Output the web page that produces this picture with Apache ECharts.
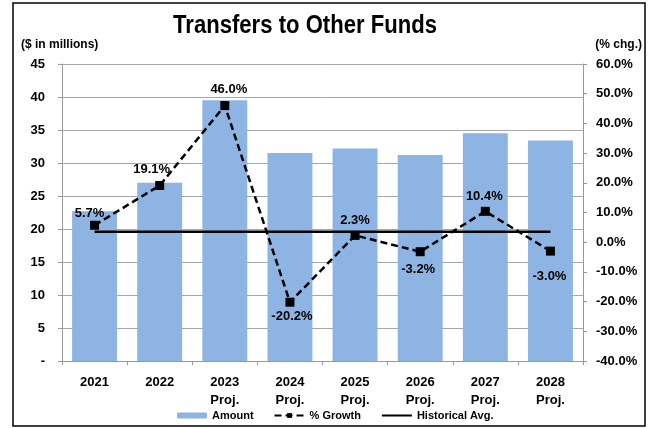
<!DOCTYPE html>
<html>
<head>
<meta charset="utf-8">
<script src="https://cdn.jsdelivr.net/npm/echarts@6/dist/echarts.min.js"></script>
<style>
html,body{margin:0;padding:0;background:#fff;}
#chart{width:651px;height:428px;}
</style>
</head>
<body>
<div id="chart"></div>
<script>
// data
var years = ['2021', '2022', '2023\nProj.', '2024\nProj.', '2025\nProj.', '2026\nProj.', '2027\nProj.', '2028\nProj.'];
var amount = [22.7, 27.0, 39.5, 31.5, 32.2, 31.2, 34.5, 33.4];
var growth = [5.7, 19.1, 46.0, -20.2, 2.3, -3.2, 10.4, -3.0];
var histAvg = [3.5, 3.5, 3.5, 3.5, 3.5, 3.5, 3.5, 3.5];
var leftTicks = [0, 45, 5];
var rightTicks = [-40, 60, 10];

// where each % label sits around its point
var labelPlace = [
  ['top', [-5, 4]], ['top', [-8, 0]], ['top', [4, 0]], ['bottom', [2, -2]],
  ['top', [0, 1]], ['bottom', [-2, 2]], ['top', [-1, 1]], ['bottom', [-1, 9]]
];

var font = 'Liberation Sans, Arial, sans-serif';

var growthData = growth.map(function (v, i) {
  return {
    value: v,
    label: { position: labelPlace[i][0], offset: labelPlace[i][1] }
  };
});

var myChart = echarts.init(document.getElementById('chart'));
var option = {
  animation: false,
  textStyle: { fontFamily: font, color: '#000' },
  graphic: [
    { type: 'rect', shape: { x: 13, y: 3, width: 632, height: 423 },
      style: { fill: 'none', stroke: '#000', lineWidth: 1.5 }, silent: true },
    { type: 'text', x: 173, y: 13, scaleX: 0.85,
      style: { text: 'Transfers to Other Funds', font: 'bold 26px ' + font, fill: '#000', verticalAlign: 'top' } },
    { type: 'text', left: 21, top: 39,
      style: { text: '($ in millions)', font: 'bold 12px ' + font, fill: '#000' } },
    { type: 'text', right: 9, top: 39,
      style: { text: '(% chg.)', font: 'bold 12px ' + font, fill: '#000' } }
  ],
  grid: { left: 62, right: 68, top: 64, bottom: 67 },
  legend: {
    left: 172, bottom: 2,
    itemWidth: 30, itemHeight: 6, itemGap: 20,
    textStyle: { fontSize: 11, fontWeight: 'bold', color: '#000', fontFamily: font },
    data: [
      'Amount',
      '% Growth',
      { name: 'Historical Avg.', itemStyle: { opacity: 0 } }
    ]
  },
  xAxis: {
    type: 'category',
    data: years,
    axisLine: { lineStyle: { color: '#999' } },
    axisTick: { show: true, length: 4, lineStyle: { color: '#999' } },
    axisLabel: { color: '#000', fontWeight: 'bold', fontSize: 13, lineHeight: 18, margin: 12, fontFamily: font }
  },
  yAxis: [
    {
      type: 'value', min: leftTicks[0], max: leftTicks[1], interval: leftTicks[2],
      axisLine: { show: true, lineStyle: { color: '#999' } },
      axisTick: { show: true, length: 4, lineStyle: { color: '#999' } },
      splitLine: { lineStyle: { color: '#a6a6a6' } },
      axisLabel: {
        color: '#000', fontWeight: 'bold', fontSize: 13, margin: 17, fontFamily: font,
        formatter: function (v) { return v === 0 ? '-' : v; }
      }
    },
    {
      type: 'value', min: rightTicks[0], max: rightTicks[1], interval: rightTicks[2],
      position: 'right',
      axisLine: { show: true, lineStyle: { color: '#999' } },
      axisTick: { show: true, length: 4, lineStyle: { color: '#999' } },
      splitLine: { show: false },
      axisLabel: {
        color: '#000', fontWeight: 'bold', fontSize: 13, margin: 13, fontFamily: font,
        formatter: function (v) { return v.toFixed(1) + '%'; }
      }
    }
  ],
  series: [
    {
      name: 'Amount', type: 'bar', data: amount,
      barCategoryGap: '31%',
      itemStyle: { color: '#8db4e2' }
    },
    {
      name: 'Historical Avg.', type: 'line', yAxisIndex: 1, data: histAvg,
      symbol: 'none', z: 3,
      lineStyle: { color: '#000', width: 2.5 },
      itemStyle: { color: '#000' }
    },
    {
      name: '% Growth', type: 'line', yAxisIndex: 1, data: growthData,
      symbol: 'rect', symbolSize: 9, z: 4,
      lineStyle: { color: '#000', width: 2.5, type: [7, 4] },
      itemStyle: { color: '#000' },
      label: {
        show: true, fontWeight: 'bold', fontSize: 13, color: '#000', fontFamily: font,
        formatter: function (p) { return p.value.toFixed(1) + '%'; }
      }
    }
  ]
};
myChart.setOption(option);
</script>
</body>
</html>
